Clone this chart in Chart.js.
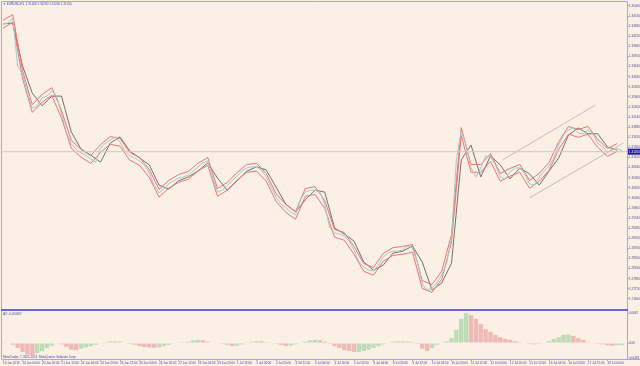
<!DOCTYPE html>
<html>
<head>
<meta charset="utf-8">
<title>EURUSD,H1</title>
<script src="https://cdn.jsdelivr.net/npm/chart.js@4.4.1/dist/chart.umd.min.js"></script>
<style>
html, body { margin: 0; padding: 0; background: #faf0e6; }
canvas { display: block; }
</style>
</head>
<body>
<canvas id="canvasChart" width="640" height="366"></canvas>
<script>
// time axis, one label every 16 H1 bars
var timeLabels = ['19 Jun 2013', '20 Jun 04:00', '20 Jun 20:00', '21 Jun 12:00', '24 Jun 04:00', '24 Jun 20:00',
    '25 Jun 12:00', '26 Jun 04:00', '26 Jun 20:00', '27 Jun 12:00', '28 Jun 04:00', '28 Jun 20:00',
    '1 Jul 12:00', '2 Jul 04:00', '2 Jul 20:00', '3 Jul 12:00', '4 Jul 04:00', '4 Jul 20:00',
    '5 Jul 12:00', '8 Jul 04:00', '8 Jul 20:00', '9 Jul 12:00', '10 Jul 04:00', '10 Jul 20:00',
    '11 Jul 12:00', '12 Jul 04:00', '12 Jul 20:00', '15 Jul 12:00', '16 Jul 04:00', '16 Jul 20:00',
    '17 Jul 12:00', '18 Jul 04:00'];
var barsPerLabel = 16;
var barCount = 512;

// price scale
var priceTicks = [1.35000, 1.34740, 1.34480, 1.34220, 1.33960, 1.33700, 1.33440, 1.33180, 1.32920, 1.32660,
    1.32400, 1.32140, 1.31880, 1.31620, 1.31360, 1.31100, 1.30840, 1.30580, 1.30320, 1.30060,
    1.29800, 1.29540, 1.29280, 1.29020, 1.28760, 1.28500, 1.28240, 1.27980, 1.27720, 1.27460];
var priceMin = 1.27175;
var priceMax = 1.35077;
var lastPrice = 1.31250;
var symbolName = 'EURUSD,H1';
var lastBar = [1.31268, 1.31290, 1.31236, 1.31250];

// close, one value every 4 bars
var closeStep = 4;
var closes = [
    1.3454, 1.3456, 1.3469, 1.3346, 1.3325, 1.3276, 1.3237, 1.3243, 1.3263, 1.3268, 1.3281, 1.3268, 1.3222, 1.3176, 1.3145, 1.3132,
    1.3122, 1.3116, 1.3106, 1.3098, 1.3134, 1.3147, 1.3155, 1.3163, 1.3150, 1.3127, 1.3114, 1.3109, 1.3101, 1.3091, 1.3070, 1.3039,
    1.3019, 1.3029, 1.3042, 1.3050, 1.3057, 1.3060, 1.3065, 1.3075, 1.3086, 1.3096, 1.3101, 1.3057, 1.3021, 1.3026, 1.3037, 1.3050,
    1.3062, 1.3075, 1.3083, 1.3086, 1.3086, 1.3078, 1.3060, 1.3034, 1.3008, 1.2990, 1.2980, 1.2970, 1.2962, 1.3001, 1.3021, 1.3026,
    1.3026, 1.3021, 1.2990, 1.2929, 1.2916, 1.2913, 1.2908, 1.2895, 1.2872, 1.2841, 1.2828, 1.2820, 1.2818, 1.2833, 1.2854, 1.2864,
    1.2869, 1.2869, 1.2872, 1.2882, 1.2877, 1.2841, 1.2784, 1.2769, 1.2774, 1.2787, 1.2808, 1.2838, 1.2903, 1.3104, 1.3178, 1.3142,
    1.3083, 1.3060, 1.3083, 1.3114, 1.3111, 1.3091, 1.3060, 1.3055, 1.3073, 1.3083, 1.3083, 1.3068, 1.3042, 1.3039, 1.3060, 1.3075,
    1.3088, 1.3109, 1.3142, 1.3168, 1.3181, 1.3186, 1.3173, 1.3171, 1.3181, 1.3171, 1.3147, 1.3137, 1.3124, 1.3129, 1.3133, 1.3127
];

// indicator lines, one value every 8 bars
var maStep = 8;
var grayMa = [
    1.3454, 1.3456, 1.3346, 1.3276, 1.3243, 1.3268, 1.3268, 1.3176, 1.3132, 1.3116, 1.3098, 1.3147, 1.3163, 1.3127, 1.3109, 1.3091,
    1.3039, 1.3029, 1.3050, 1.3060, 1.3075, 1.3096, 1.3057, 1.3026, 1.3050, 1.3075, 1.3086, 1.3078, 1.3034, 1.2990, 1.2970, 1.3001,
    1.3026, 1.3021, 1.2929, 1.2913, 1.2895, 1.2841, 1.2820, 1.2833, 1.2864, 1.2869, 1.2882, 1.2841, 1.2769, 1.2787, 1.2838, 1.3104,
    1.3142, 1.3060, 1.3114, 1.3091, 1.3055, 1.3083, 1.3068, 1.3039, 1.3075, 1.3109, 1.3168, 1.3186, 1.3171, 1.3171, 1.3137, 1.3129
];
var redUpper = [
    1.3463, 1.3478, 1.3334, 1.3246, 1.3272, 1.3290, 1.3231, 1.3154, 1.3131, 1.3115, 1.3143, 1.3164, 1.3159, 1.3123, 1.3110, 1.3079,
    1.3028, 1.3051, 1.3066, 1.3074, 1.3095, 1.3110, 1.3030, 1.3046, 1.3071, 1.3092, 1.3095, 1.3069, 1.3017, 1.2989, 1.2971, 1.3030,
    1.3035, 1.2999, 1.2925, 1.2917, 1.2881, 1.2837, 1.2827, 1.2863, 1.2878, 1.2881, 1.2886, 1.2793, 1.2783, 1.2817, 1.2912, 1.3187,
    1.3092, 1.3092, 1.3120, 1.3069, 1.3082, 1.3092, 1.3051, 1.3069, 1.3097, 1.3151, 1.3190, 1.3182, 1.3190, 1.3156, 1.3133, 1.3146
];
var redLower = [
    1.3443, 1.3458, 1.3314, 1.3226, 1.3252, 1.3270, 1.3211, 1.3134, 1.3111, 1.3095, 1.3123, 1.3144, 1.3139, 1.3103, 1.3090, 1.3059,
    1.3008, 1.3031, 1.3046, 1.3054, 1.3075, 1.3090, 1.3010, 1.3026, 1.3051, 1.3072, 1.3075, 1.3049, 1.2997, 1.2969, 1.2951, 1.3010,
    1.3015, 1.2979, 1.2905, 1.2897, 1.2861, 1.2817, 1.2807, 1.2843, 1.2858, 1.2861, 1.2866, 1.2773, 1.2763, 1.2797, 1.2892, 1.3167,
    1.3072, 1.3072, 1.3100, 1.3049, 1.3062, 1.3072, 1.3031, 1.3049, 1.3077, 1.3131, 1.3170, 1.3162, 1.3170, 1.3136, 1.3113, 1.3126
];

// trend channel, [bar, price]
var channelUpper = [[410, 1.3104], [486, 1.3245]];
var channelLower = [[432, 1.3006], [509, 1.3147]];

// Awesome Oscillator, one value every 4 bars
var aoStep = 4;
var aoValues = [
    0.0002, 0.0001, -0.0004, -0.0011, -0.0020, -0.0026, -0.0027, -0.0023, -0.0018, -0.0011, -0.0006, -0.0001, -0.0003, -0.0009, -0.0015, -0.0016,
    -0.0013, -0.0010, -0.0007, -0.0004, -0.0001, 0.0002, 0.0004, 0.0004, 0.0003, 0.0001, -0.0002, -0.0004, -0.0007, -0.0009, -0.0010, -0.0011,
    -0.0010, -0.0007, -0.0004, -0.0001, 0.0001, 0.0002, 0.0003, 0.0006, 0.0007, 0.0006, 0.0003, 0.0001, 0.0001, -0.0002, -0.0004, -0.0007,
    -0.0006, -0.0003, 0.0001, 0.0003, 0.0004, 0.0004, 0.0002, 0.0001, -0.0002, -0.0004, -0.0007, -0.0006, -0.0003, 0.0000, 0.0003, 0.0006,
    0.0007, 0.0006, 0.0003, -0.0002, -0.0007, -0.0011, -0.0016, -0.0018, -0.0020, -0.0020, -0.0018, -0.0015, -0.0011, -0.0007, -0.0003, 0.0001,
    0.0003, 0.0004, 0.0004, 0.0003, 0.0002, -0.0002, -0.0013, -0.0018, -0.0011, -0.0004, 0.0001, 0.0004, 0.0011, 0.0029, 0.0054, 0.0067,
    0.0062, 0.0054, 0.0042, 0.0031, 0.0025, 0.0018, 0.0013, 0.0009, 0.0007, 0.0004, 0.0002, 0.0000, -0.0002, -0.0003, -0.0002, 0.0000,
    0.0004, 0.0009, 0.0013, 0.0018, 0.0019, 0.0016, 0.0011, 0.0007, 0.0002, -0.0001, -0.0002, -0.0003, -0.0005, -0.0006, -0.0005, -0.0005
];
var aoTicks = [0.0067, 0, -0.0033];
var aoMin = -0.00357;
var aoMax = 0.00737;
var aoLast = -0.000497;

var textFont = { family: 'Liberation Sans', size: 3 };
var textColor = '#4a4a98';
var frameColor = '#a8a8d8';

function toPoints(values, step) {
    return values.map(function (v, i) { return { x: i * step, y: v }; });
}

var aoColors = aoValues.map(function (v, i) {//上升綠 下降紅
    if (i > 0 && v < aoValues[i - 1]) return 'rgba(232,150,150,0.6)';
    return 'rgba(150,206,150,0.6)';
});

var chartDecor = {
    id: 'chartDecor',
    beforeDraw: function (chart) {
        var c = chart.ctx;
        c.save();
        c.fillStyle = '#faf0e6';
        c.fillRect(0, 0, chart.width, chart.height);
        c.restore();
    },
    afterDraw: function (chart) {
        var c = chart.ctx;
        var a = chart.chartArea;
        var yScale = chart.scales.y;
        var aoScale = chart.scales.y2;
        c.save();
        c.lineWidth = 1;
        c.strokeStyle = frameColor;
        c.beginPath();
        c.moveTo(1.5, a.top - 1.5); c.lineTo(a.right + 0.5, a.top - 1.5);
        c.moveTo(1.5, a.top - 1.5); c.lineTo(1.5, a.bottom + 0.5);
        c.moveTo(a.right + 0.5, a.top - 1.5); c.lineTo(a.right + 0.5, a.bottom + 0.5);
        c.moveTo(1.5, a.bottom + 0.5); c.lineTo(chart.width, a.bottom + 0.5);
        c.stroke();

        // pane separator
        c.strokeStyle = '#3a3acc';
        c.lineWidth = 1.5;
        c.beginPath();
        c.moveTo(1, aoScale.top); c.lineTo(a.right + 1, aoScale.top);
        c.stroke();

        // bid label
        var py = yScale.getPixelForValue(lastPrice);
        c.fillStyle = '#1c1c9c';
        c.fillRect(a.right + 1, py - 3, chart.width - a.right - 1, 6);
        c.fillStyle = '#ffffff';
        c.font = '3px "Liberation Sans"';
        c.textBaseline = 'middle';
        c.textAlign = 'left';
        c.fillText(lastPrice.toFixed(5), a.right + 2, py);

        c.fillStyle = textColor;
        c.fillText('\u25BC ' + symbolName + '  ' + lastBar.map(function (v) { return v.toFixed(5); }).join(' '), 3, a.top + 1.5);
        c.fillText('AO ' + aoLast.toFixed(6), 3, aoScale.top + 4);
        c.fillText('MetaTrader, \u00A9 2001-2013, MetaQuotes Software Corp.', 3, a.bottom - 2);
        c.restore();
    }
};

var lineStyle = { pointRadius: 0, borderWidth: 1, tension: 0, yAxisID: 'y', fill: false };

var config = {
    type: 'line',
    data: {
        datasets: [
            Object.assign({ label: 'horizontal', data: [{ x: 0, y: lastPrice }, { x: barCount, y: lastPrice }], borderColor: '#d2c8c4' }, lineStyle),
            Object.assign({ label: 'channel up', data: channelUpper.map(function (p) { return { x: p[0], y: p[1] }; }), borderColor: '#c4bcb4' }, lineStyle),
            Object.assign({ label: 'channel down', data: channelLower.map(function (p) { return { x: p[0], y: p[1] }; }), borderColor: '#c4bcb4' }, lineStyle),
            Object.assign({ label: 'close', data: toPoints(closes, closeStep), borderColor: '#9ccccc' }, lineStyle),
            Object.assign({ label: 'red upper', data: toPoints(redUpper, maStep), borderColor: '#ec7474' }, lineStyle),
            Object.assign({ label: 'red lower', data: toPoints(redLower, maStep), borderColor: '#ec7474' }, lineStyle),
            Object.assign({ label: 'ma', data: toPoints(grayMa, maStep), borderColor: '#727272' }, lineStyle),
            {
                type: 'bar',
                label: 'AO',
                data: toPoints(aoValues, aoStep),
                backgroundColor: aoColors,
                borderWidth: 0,
                barPercentage: 0.9,
                categoryPercentage: 1,
                yAxisID: 'y2'
            }
        ]
    },
    options: {
        responsive: false,
        animation: false,
        events: [],
        layout: { padding: { left: 3, top: 3, right: 0, bottom: 0 } },
        plugins: { legend: { display: false }, tooltip: { enabled: false } },
        scales: {
            x: {
                type: 'linear',
                position: 'bottom',
                offset: false,
                min: 0,
                max: barCount,
                afterBuildTicks: function (scale) {
                    scale.ticks = timeLabels.map(function (t, k) { return { value: k * barsPerLabel }; });
                },
                afterFit: function (scale) { scale.height = 7; },
                ticks: {
                    autoSkip: false,
                    maxRotation: 0,
                    align: 'start',
                    padding: 0,
                    font: textFont,
                    color: textColor,
                    callback: function (value, index) { return timeLabels[index]; }
                },
                grid: { offset: false, drawOnChartArea: false, tickLength: 2, color: frameColor },
                border: { display: false }
            },
            y: {
                type: 'linear',
                position: 'right',
                stack: 'panes',
                stackWeight: 307,
                min: priceMin,
                max: priceMax,
                afterBuildTicks: function (scale) {
                    scale.ticks = priceTicks.map(function (v) { return { value: v }; });
                },
                afterFit: function (scale) { scale.width = 13; },
                ticks: {
                    autoSkip: false,
                    padding: 0,
                    font: textFont,
                    color: textColor,
                    callback: function (value) { return value.toFixed(5); }
                },
                grid: { drawOnChartArea: false, tickLength: 2, color: frameColor },
                border: { display: false }
            },
            y2: {
                type: 'linear',
                position: 'right',
                stack: 'panes',
                stackWeight: 49,
                min: aoMin,
                max: aoMax,
                afterBuildTicks: function (scale) {
                    scale.ticks = aoTicks.map(function (v) { return { value: v }; });
                },
                afterFit: function (scale) { scale.width = 13; },
                ticks: {
                    autoSkip: false,
                    padding: 0,
                    font: textFont,
                    color: textColor,
                    callback: function (value) { return value === 0 ? '0.00' : value.toFixed(4); }
                },
                grid: { drawOnChartArea: false, tickLength: 2, color: frameColor },
                border: { display: false }
            }
        }
    },
    plugins: [chartDecor]
};

window.onload = function () {
    window.priceChart = new Chart(document.getElementById('canvasChart'), config);
};
</script>
</body>
</html>
